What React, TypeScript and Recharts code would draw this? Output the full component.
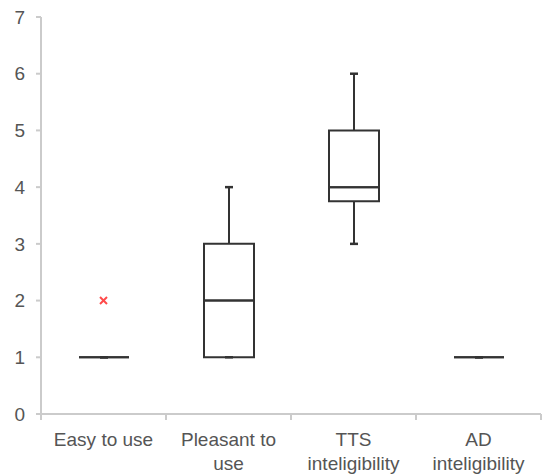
import { ComposedChart, Bar, Line, XAxis, YAxis } from 'recharts'

const categories = ['Easy to use', 'Pleasant to\nuse', 'TTS\ninteligibility', 'AD\ninteligibility']
const mins = [1, 1, 3, 1]
const q1s = [1, 1, 3.75, 1]
const medians = [1, 2, 4, 1]
const q3s = [1, 3, 5, 1]
const maxs = [1, 4, 6, 1]
const outliers: (number | null)[] = [2, null, null, null]
const yTicks = [0, 1, 2, 3, 4, 5, 6, 7]

const data = categories.map((name, i) => ({
  name,
  base: mins[i],
  whiskLow: q1s[i] - mins[i],
  boxLow: medians[i] - q1s[i],
  boxHigh: q3s[i] - medians[i],
  whiskHigh: maxs[i] - q3s[i],
  outlier: outliers[i],
}))

const INK = '#333'
const AXIS = '#cbcbcb'
const TEXT = '#555'
const FONT = '"Liberation Sans", Arial, sans-serif'

type ShapeProps = { x?: number; y?: number; width?: number; height?: number }

const boxShape = (p: ShapeProps) => {
  const x = p.x ?? 0, y = p.y ?? 0, w = p.width ?? 0, h = p.height ?? 0
  return (
    <path d={`M${x},${y}H${x + w}V${y + h}H${x}Z`} fill="none" stroke={INK} strokeWidth={2} />
  )
}

// cap at bottom (low whisker) or top (high whisker)
const whiskerShape = (low: boolean) => (p: ShapeProps) => {
  const x = p.x ?? 0, y = p.y ?? 0, w = p.width ?? 0, h = p.height ?? 0
  const cx = x + w / 2
  const capY = low ? y + h : y
  return (
    <g>
      {h > 0 && <line x1={cx} x2={cx} y1={y} y2={y + h} stroke={INK} strokeWidth={2} />}
      <line x1={cx - 4} x2={cx + 4} y1={capY} y2={capY} stroke={INK} strokeWidth={2.5} />
    </g>
  )
}

const OutlierDot = (p: { cx?: number; cy?: number | null; index?: number }) => {
  if (p.cy == null || p.cx == null) return <g key={p.index} />
  const s = 3.5
  return (
    <g key={p.index} stroke="#ff4a4a" strokeWidth={2}>
      <line x1={p.cx - s} y1={p.cy - s} x2={p.cx + s} y2={p.cy + s} />
      <line x1={p.cx - s} y1={p.cy + s} x2={p.cx + s} y2={p.cy - s} />
    </g>
  )
}

// tick y arrives offset by tickSize + tickMargin (6 + 2) below the axis line
const CategoryTick = (p: any) => {
  const { x, payload, index } = p
  const y = p.y - 8
  const half = payload?.offset ?? 0
  const lines = String(payload.value).split('\n')
  return (
    <g>
      <line x1={x - half} x2={x - half} y1={y} y2={y + 6} stroke={AXIS} strokeWidth={2} />
      {index === categories.length - 1 && (
        <line x1={x + half} x2={x + half} y1={y} y2={y + 6} stroke={AXIS} strokeWidth={2} />
      )}
      {lines.map((t, i) => (
        <text key={i} x={x} y={y + 32 + i * 24} textAnchor="middle" fill={TEXT}
              fontSize={19} fontFamily={FONT}>
          {t}
        </text>
      ))}
    </g>
  )
}

export default function App() {
  return (
    <div style={{ position: 'absolute', left: 0, top: 0, background: '#fff' }}>
      <ComposedChart width={542} height={474} data={data}
                     margin={{ top: 17, right: 1, left: 0, bottom: 0 }}>
        <XAxis dataKey="name" height={60} axisLine={{ stroke: AXIS, strokeWidth: 2 }}
               tickLine={false} tick={<CategoryTick />} interval={0} />
        <YAxis domain={[0, 7]} ticks={yTicks} width={41} tickSize={5} tickMargin={11}
               axisLine={{ stroke: AXIS, strokeWidth: 2 }} tickLine={{ stroke: AXIS, strokeWidth: 2 }}
               tick={{ fill: TEXT, fontSize: 19, fontFamily: FONT }} />
        <Bar dataKey="base" stackId="a" barSize={50} fill="none" isAnimationActive={false} />
        <Bar dataKey="whiskLow" stackId="a" barSize={50} shape={whiskerShape(true)} isAnimationActive={false} />
        <Bar dataKey="boxLow" stackId="a" barSize={50} shape={boxShape} isAnimationActive={false} />
        <Bar dataKey="boxHigh" stackId="a" barSize={50} shape={boxShape} isAnimationActive={false} />
        <Bar dataKey="whiskHigh" stackId="a" barSize={50} shape={whiskerShape(false)} isAnimationActive={false} />
        <Line dataKey="outlier" stroke="none" dot={OutlierDot} activeDot={false}
              isAnimationActive={false} connectNulls={false} />
      </ComposedChart>
    </div>
  )
}
